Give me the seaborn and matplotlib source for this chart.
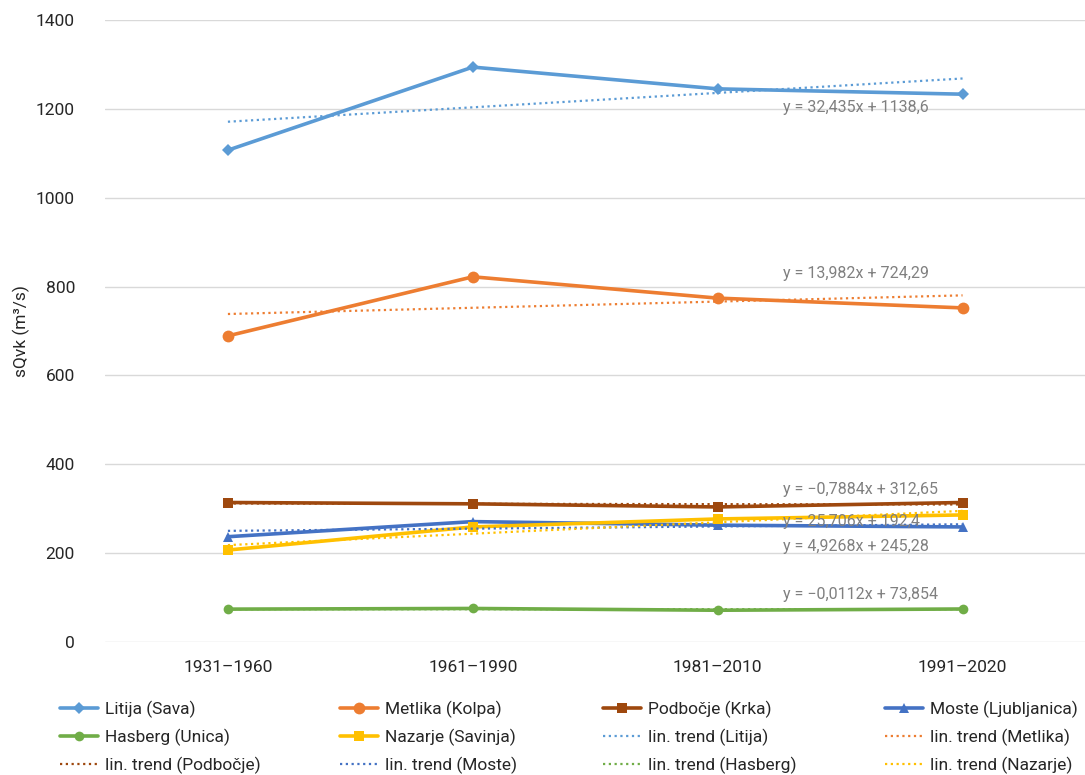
import numpy as np
import pandas as pd
import matplotlib
matplotlib.use("Agg")
import matplotlib.pyplot as plt
from matplotlib.lines import Line2D
import seaborn as sns

# Reference periods and mean annual high discharge sQvk (m³/s) per gauging station
periods = ["1931–1960", "1961–1990", "1981–2010", "1991–2020"]
stations = ["Litija (Sava)", "Metlika (Kolpa)", "Podbočje (Krka)",
            "Moste (Ljubljanica)", "Hasberg (Unica)", "Nazarje (Savinja)"]
short_names = ["Litija", "Metlika", "Podbočje", "Moste", "Hasberg", "Nazarje"]

litija = [1107, 1294, 1245, 1233]
metlika = [689, 822, 774, 752]
podbocje = [314, 311, 304, 314]
moste = [237, 271, 263, 259]
hasberg = [74, 75.5, 71.5, 74.3]
nazarje = [207, 259, 277, 286]
series = [litija, metlika, podbocje, moste, hasberg, nazarje]

# Linear trend coefficients (y = slope * x + intercept, x = 1..4)
slopes = [32.435, 13.982, -0.7884, 4.9268, -0.0112, 25.706]
intercepts = [1138.6, 724.29, 312.65, 245.28, 73.854, 192.4]
# Vertical position of each trend equation label
eq_y = [1204, 830, 344, 216, 106, 272]

colors = ["#5B9BD5", "#ED7D31", "#9E480E", "#4472C4", "#70AD47", "#FFC000"]
markers = ["D", "o", "s", "^", "o", "s"]
msizes = [6.5, 8.5, 6.5, 7.5, 7, 6.5]

sns.set_theme(style="white")
plt.rcParams["font.family"] = ["Roboto", "DejaVu Sans"]

fig = plt.figure(figsize=(10.85, 7.75), dpi=100)
ax = fig.add_axes([0.0972, 0.1716, 0.9028, 0.8026])

xpos = np.arange(len(periods))

for vals, name, col, mk, ms in zip(series, stations, colors, markers, msizes):
    df = pd.DataFrame({"x": xpos, "y": vals})
    sns.lineplot(data=df, x="x", y="y", ax=ax, color=col, linewidth=2.6,
                 marker=mk, markersize=ms, markeredgewidth=0, legend=False,
                 zorder=3)

for a, b, col in zip(slopes, intercepts, colors):
    tx = np.arange(1, len(periods) + 1)
    df = pd.DataFrame({"x": xpos, "y": a * tx + b})
    sns.lineplot(data=df, x="x", y="y", ax=ax, color=col, linewidth=1.6,
                 linestyle=(0, (1, 1.6)), legend=False, zorder=4)


def fmt(v):
    s = str(v).replace(".", ",")
    return s.replace("-", "\u2212")


for a, b, yy in zip(slopes, intercepts, eq_y):
    ax.text(2.265, yy, f"y = {fmt(a)}x + {fmt(b)}", color="#808080",
            fontsize=11.5, ha="left", va="center", zorder=5)

ax.set_xlim(-0.5, 3.5)
ax.set_ylim(0, 1400)
ax.set_xticks(xpos)
ax.set_xticklabels(periods)
ax.set_yticks(np.arange(0, 1401, 200))
ax.yaxis.grid(True, color="#D9D9D9", linewidth=1)
ax.xaxis.grid(False)
for sp in ax.spines.values():
    sp.set_visible(False)
ax.tick_params(axis="both", length=0, labelsize=12.5, colors="#262626")
ax.tick_params(axis="y", pad=22)
ax.tick_params(axis="x", pad=13)
ax.set_xlabel("")
ax.set_ylabel("sQvk (m³/s)", fontsize=12.5, color="#262626")
ax.yaxis.set_label_coords(-0.0771, 0.5)

# Legend entries, listed row by row
handles = []
labels = []
for name, col, mk, ms in zip(stations, colors, markers, msizes):
    handles.append(Line2D([], [], color=col, linewidth=2.6, marker=mk,
                          markersize=ms, markeredgewidth=0))
    labels.append(name)
for short, col in zip(short_names, colors):
    handles.append(Line2D([], [], color=col, linewidth=1.6,
                          linestyle=(0, (1, 1.6))))
    labels.append(f"lin. trend ({short})")

# One legend block per column, so each column starts at a fixed position
ncol, nrow = 4, 3
col_left = [0.0553, 0.3134, 0.5558, 0.8157]
for c in range(ncol):
    idx = [r * ncol + c for r in range(nrow)]
    fig.legend([handles[i] for i in idx], [labels[i] for i in idx],
               loc="upper left", bbox_to_anchor=(col_left[c], 0.0955),
               ncol=1, frameon=False, fontsize=12.5, handlelength=2.2,
               handletextpad=0.4, labelspacing=0.62, borderaxespad=0,
               borderpad=0, labelcolor="#262626")

fig.savefig("out.png", dpi=100)
